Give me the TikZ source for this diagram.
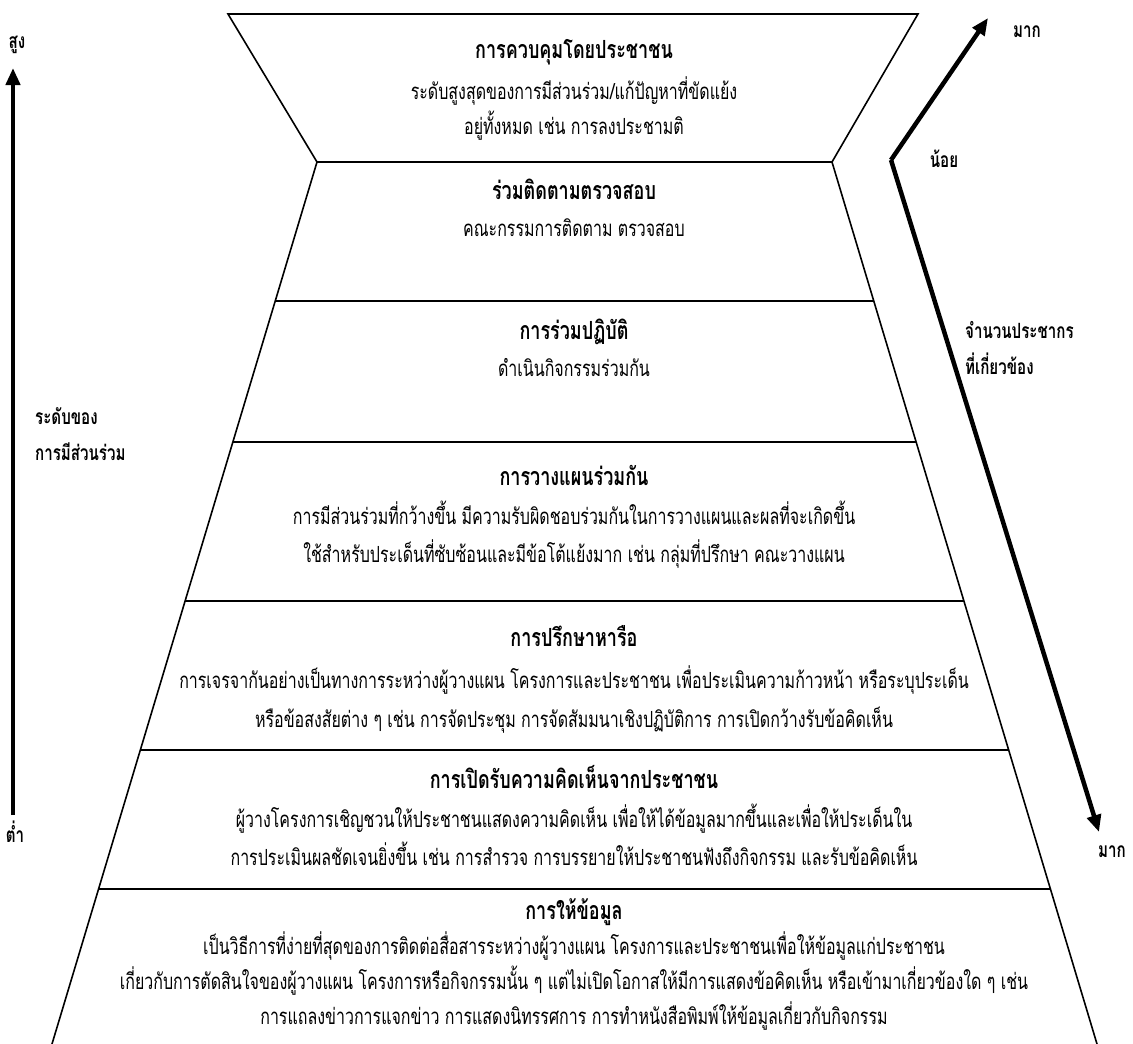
\documentclass[tikz,border=0pt]{standalone}
\usepackage{fontspec}
\newfontfamily\thai[Script=Thai,FakeStretch=0.72]{Loma}
\usetikzlibrary{arrows.meta,calc}
\begin{document}
\begin{tikzpicture}[x=1pt,y=-1pt,
  edge/.style={line width=1.6pt,line join=miter},
  tier/.style={line width=1.8pt},
  bigarrow/.style={line width=4.5pt,line join=miter,-{Triangle[length=17pt,width=14pt]}},
  body/.style={font=\thai\fontsize{22.2}{26}\selectfont,anchor=base,inner sep=0pt},
  ttl/.style={font=\thai\bfseries\fontsize{25}{28}\selectfont,anchor=base,inner sep=0pt},
  lbl/.style={font=\thai\bfseries\fontsize{21}{24}\selectfont,anchor=base,inner sep=0pt}]
\useasboundingbox (0,0) rectangle (1133,1044);
% outline
\coordinate (TL) at (228,14);
\coordinate (TR) at (918,14);
\coordinate (LT) at (317,162);
\coordinate (RT) at (832,162);
\coordinate (LB) at (52,1044);
\coordinate (RB) at (1097,1044);
\draw[edge] (LB) -- (LT) -- (TL) -- (TR) -- (RT) -- (RB);
\draw[tier] (LT) -- (RT);
\foreach \t in {0.1576,0.3175,0.4977,0.6667,0.8243}
  \draw[tier] ($(LT)!\t!(LB)$) -- ($(RT)!\t!(RB)$);
% tier 0
\node[ttl]  (a0) at (574,58)  {การควบคุมโดยประชาชน};
\node[body] (a1) at (574,99)  {ระดับสูงสุดของการมีส่วนร่วม/แก้ปัญหาที่ขัดแย้ง};
\node[body] (a2) at (574,134) {อยู่ทั้งหมด เช่น การลงประชามติ};
% tier 1
\node[ttl]  (b0) at (574,199) {ร่วมติดตามตรวจสอบ};
\node[body] (b1) at (574,236) {คณะกรรมการติดตาม ตรวจสอบ};
% tier 2
\node[ttl]  (c0) at (574,339) {การร่วมปฏิบัติ};
\node[body] (c1) at (574,376) {ดำเนินกิจกรรมร่วมกัน};
% tier 3
\node[ttl]  (d0) at (574,485) {การวางแผนร่วมกัน};
\node[body] (d1) at (574,524) {การมีส่วนร่วมที่กว้างขึ้น มีความรับผิดชอบร่วมกันในการวางแผนและผลที่จะเกิดขึ้น};
\node[body] (d2) at (574,562) {ใช้สำหรับประเด็นที่ซับซ้อนและมีข้อโต้แย้งมาก เช่น กลุ่มที่ปรึกษา คณะวางแผน};
% tier 4
\node[ttl]  (e0) at (574,646) {การปรึกษาหารือ};
\node[body] (e1) at (574,688) {การเจรจากันอย่างเป็นทางการระหว่างผู้วางแผน โครงการและประชาชน เพื่อประเมินความก้าวหน้า หรือระบุประเด็น};
\node[body] (e2) at (574,727) {หรือข้อสงสัยต่าง ๆ เช่น การจัดประชุม การจัดสัมมนาเชิงปฏิบัติการ การเปิดกว้างรับข้อคิดเห็น};
% tier 5
\node[ttl]  (f0) at (574,788) {การเปิดรับความคิดเห็นจากประชาชน};
\node[body] (f1) at (574,827) {ผู้วางโครงการเชิญชวนให้ประชาชนแสดงความคิดเห็น เพื่อให้ได้ข้อมูลมากขึ้นและเพื่อให้ประเด็นใน};
\node[body] (f2) at (574,865) {การประเมินผลชัดเจนยิ่งขึ้น เช่น การสำรวจ การบรรยายให้ประชาชนฟังถึงกิจกรรม และรับข้อคิดเห็น};
% tier 6
\node[ttl]  (g0) at (574,919) {การให้ข้อมูล};
\node[body] (g1) at (574,954) {เป็นวิธีการที่ง่ายที่สุดของการติดต่อสื่อสารระหว่างผู้วางแผน โครงการและประชาชนเพื่อให้ข้อมูลแก่ประชาชน};
\node[body] (g2) at (574,989) {เกี่ยวกับการตัดสินใจของผู้วางแผน โครงการหรือกิจกรรมนั้น ๆ แต่ไม่เปิดโอกาสให้มีการแสดงข้อคิดเห็น หรือเข้ามาเกี่ยวข้องใด ๆ เช่น};
\node[body] (g3) at (574,1024) {การแถลงข่าวการแจกข่าว การแสดงนิทรรศการ การทำหนังสือพิมพ์ให้ข้อมูลเกี่ยวกับกิจกรรม};
% left axis
\node[lbl] (high) at (17,48) {สูง};
\node[lbl] (low)  at (15,842) {ต่ำ};
\coordinate (axB) at (13,815);
\coordinate (axT) at (13,68);
\draw[bigarrow] (axB) -- (axT);
\node[lbl,anchor=base west] (lv1) at (35,424) {ระดับของ};
\node[lbl,anchor=base west] (lv2) at (35,460) {การมีส่วนร่วม};
% right arrow
\coordinate (rv) at (891,160);
\coordinate (rtop) at (988,18);
\coordinate (rbot) at (1099,832);
\draw[bigarrow] (rv) -- (rtop);
\draw[bigarrow] (rv) -- (rbot);
\node[lbl] (more1) at (1027,37) {มาก};
\node[lbl] (less)  at (944,167) {น้อย};
\node[lbl,anchor=base west] (pop1) at (965,338) {จำนวนประชากร};
\node[lbl,anchor=base west] (pop2) at (965,374) {ที่เกี่ยวข้อง};
\node[lbl] (more2) at (1112,857) {มาก};
\end{tikzpicture}
\end{document}
